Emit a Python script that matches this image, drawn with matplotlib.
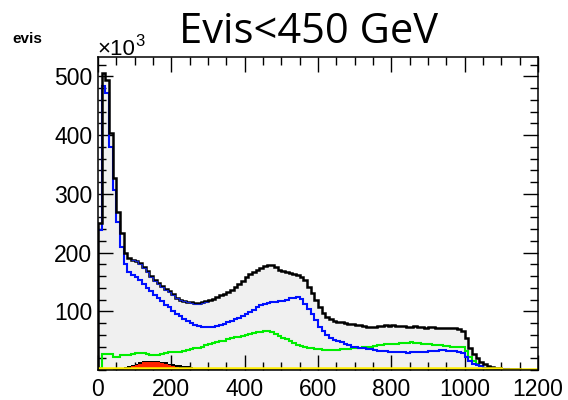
import numpy as np
import matplotlib
matplotlib.use('Agg')
from matplotlib import pyplot as plt
from matplotlib.ticker import MultipleLocator

# 10 GeV bins, 0 - 1200 GeV, values in units of 10^3 events
edges = np.arange(0, 1210, 10)

total = [250, 506, 494, 404, 327, 269, 233, 200, 191, 188,
         186, 182, 175, 168, 160, 153, 148, 143, 138, 134,
         129, 123, 120, 118, 116, 115, 114, 114, 115, 117,
         119, 121, 124, 127, 130, 133, 137, 141, 146, 152,
         158, 163, 167, 170, 174, 177, 179, 178, 176, 170,
         168, 167, 165, 164, 162, 158, 153, 142, 131, 119,
         107, 97, 90, 86, 83, 82, 81, 80, 79, 78,
         77, 76, 75, 74, 74, 74, 75, 75, 76, 75,
         76, 75, 75, 75, 74, 74, 75, 73, 73, 72,
         73, 73, 72, 71, 72, 71, 72, 71, 69, 67,
         55, 38, 28, 20, 14, 10, 7, 5, 4, 3,
         2, 1, 1, 1, 1, 0, 0, 0, 0, 0]

blue = [238, 484, 472, 380, 307, 252, 210, 180, 167, 162,
        158, 153, 146, 140, 134, 127, 122, 117, 111, 107,
        101, 96, 92, 87, 83, 80, 77, 75, 74, 74,
        73, 74, 75, 77, 79, 82, 84, 86, 88, 92,
        96, 99, 103, 107, 110, 112, 114, 115, 116, 117,
        118, 120, 122, 123, 124, 121, 112, 104, 95, 85,
        74, 66, 59, 54, 51, 49, 47, 45, 43, 40,
        39, 38, 37, 36, 35, 34, 33, 32, 32, 31,
        31, 30, 30, 30, 29, 30, 30, 31, 31, 31,
        32, 33, 33, 34, 34, 33, 33, 32, 31, 29,
        22, 16, 11, 8, 6, 4, 3, 2, 2, 1,
        1, 1, 0, 0, 0, 0, 0, 0, 0, 0]

green = [3, 28, 27, 27, 22, 22, 25, 26, 26, 28,
         29, 29, 29, 27, 26, 26, 26, 28, 29, 30,
         30, 30, 31, 32, 34, 35, 37, 38, 40, 42,
         44, 46, 47, 49, 50, 52, 54, 56, 57, 58,
         60, 62, 63, 64, 65, 66, 66, 65, 62, 58,
         55, 52, 50, 46, 43, 41, 40, 38, 37, 36,
         35, 34, 34, 34, 34, 34, 35, 36, 36, 37,
         38, 38, 39, 39, 40, 41, 42, 43, 44, 44,
         45, 45, 46, 46, 46, 47, 46, 46, 45, 45,
         44, 43, 43, 42, 41, 41, 40, 40, 40, 40,
         33, 22, 15, 10, 6, 4, 2, 1, 0, 0,
         0, 0, 0, 0, 0, 0, 0, 0, 0, 0]

# second blue component, visible only along the total between 90 and 300 GeV
navy_edges = np.arange(90, 310, 10)
navy = [187, 185, 181, 174, 167, 159, 152, 147, 142, 137, 133,
        128, 122, 119, 117, 115, 114, 113, 113, 114, 116]

# small filled components
dark = [0, 0, 0, 0, 1, 2, 3, 5, 7, 9,
        11, 13, 15, 16, 16, 16, 15, 14, 13, 11,
        10, 9, 8, 7, 6, 5, 4, 3, 3, 2,
        2, 1, 1, 1] + [0] * 86
red = [0, 0, 0, 0, 0, 0, 0, 2, 4, 7,
       9, 11, 13, 14, 14, 14, 13, 12, 11, 9,
       7, 5, 3, 2, 1] + [0] * 95
yellow = [3] * 110 + [1.5] * 10

fig = plt.figure(figsize=(5.68, 4.0), dpi=100)
ax = fig.add_axes([98 / 568, 30 / 400, 440 / 568, 313 / 400])

ax.stairs(total, edges, fill=True, color='#f0f0f0', zorder=1)
ax.stairs(dark, edges, fill=True, color='black', zorder=2)
ax.stairs(red, edges, fill=True, color='#ff2000', zorder=3)
ax.stairs(green, edges, color='#00ee00', lw=1.5, zorder=4)
ax.stairs(blue, edges, color='#0010ff', lw=1.5, zorder=5)
ax.stairs(total, edges, color='black', lw=1.8, zorder=6)
ax.stairs(navy, navy_edges, color='#1020d0', lw=0.8, baseline=None, zorder=7)
ax.stairs(yellow, edges, color='#ffee00', lw=1.8, baseline=None, zorder=8)

ax.set_xlim(0, 1200)
ax.set_ylim(0, 533)
ax.xaxis.set_major_locator(MultipleLocator(200))
ax.xaxis.set_minor_locator(MultipleLocator(50))
ax.yaxis.set_major_locator(MultipleLocator(100))
ax.yaxis.set_minor_locator(MultipleLocator(20))
ax.set_yticks([100, 200, 300, 400, 500])
ax.tick_params(which='both', direction='in', top=True, right=True,
               labelsize=16.5, width=1.0, colors='black')
ax.tick_params(which='major', length=11)
ax.tick_params(which='minor', length=5.5)
ax.tick_params(axis='x', pad=6)
ax.tick_params(axis='y', pad=4)
for lab in ax.get_xticklabels() + ax.get_yticklabels():
    lab.set_family('Liberation Sans')
for sp in ax.spines.values():
    sp.set_linewidth(1.1)
    sp.set_zorder(10)

fig.text(12 / 568, 1 - 43 / 400, 'evis', family='Liberation Sans',
         fontweight='bold', fontsize=11, va='baseline')
fig.text(97 / 568, 1 - 55 / 400, '\u00d710', family='Liberation Sans',
         fontsize=16, va='baseline')
fig.text(135.5 / 568, 1 - 46 / 400, '3', family='Liberation Sans',
         fontsize=12, va='baseline')
fig.text(309 / 568, 1 - 43 / 400, 'Evis<450 GeV', family='Open Sans',
         fontsize=30, ha='center', va='baseline')

fig.savefig('out.png', dpi=100)
